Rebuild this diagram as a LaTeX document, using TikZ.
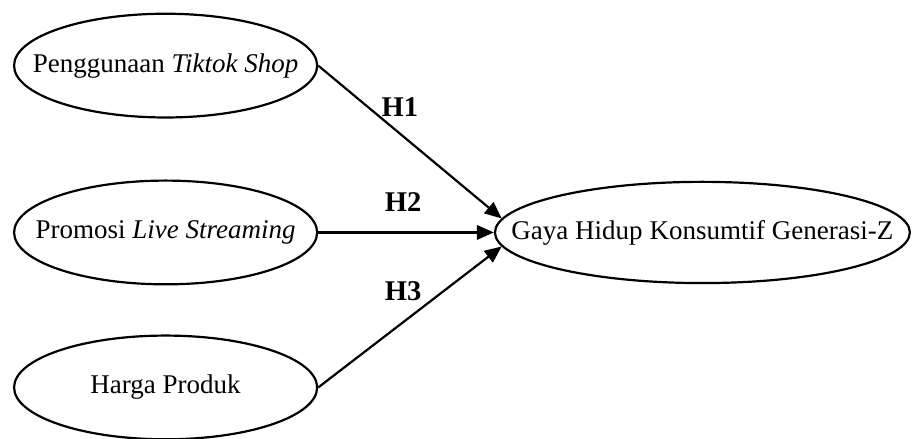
\documentclass[tikz,border=0pt]{standalone}
\usepackage{fontspec}
\setmainfont{Liberation Serif}
\usetikzlibrary{arrows.meta,shapes.geometric}

\begin{document}
\begin{tikzpicture}[
    var/.style={draw, ellipse, line width=1pt, inner sep=0pt, font=\fontsize{12.3}{14}\selectfont},
    link/.style={line width=1pt, -{Triangle[length=0.27cm,width=0.23cm]}},
    hyp/.style={font=\fontsize{13}{15}\selectfont\bfseries}]
    \useasboundingbox (0,0) rectangle (14.61,7.02);
    % Independent variables
    \node[var, minimum width=4.85cm, minimum height=1.66cm] (tiktok) at (2.65,5.97) {\makebox[0pt]{Penggunaan \textit{Tiktok Shop}}};
    \node[var, minimum width=4.85cm, minimum height=1.66cm] (promo) at (2.65,3.30) {\makebox[0pt]{Promosi \textit{Live Streaming}}};
    \node[var, minimum width=4.85cm, minimum height=1.66cm] (harga) at (2.65,0.82) {\makebox[0pt]{Harga Produk}};
    % Dependent variable
    \node[var, minimum width=6.64cm, minimum height=1.62cm] (gaya) at (11.24,3.30) {\makebox[0pt]{Gaya Hidup Konsumtif Generasi-Z}};
    % Hypotheses
    \draw[link] (tiktok.east) -- (gaya.176);
    \draw[link] (promo.east) -- (gaya.west);
    \draw[link] (harga.east) -- (gaya.184);
    \node[hyp] (h1) at (6.40,5.31) {H1};
    \node[hyp] (h2) at (6.45,3.78) {H2};
    \node[hyp] (h3) at (6.45,2.36) {H3};
\end{tikzpicture}
\end{document}
